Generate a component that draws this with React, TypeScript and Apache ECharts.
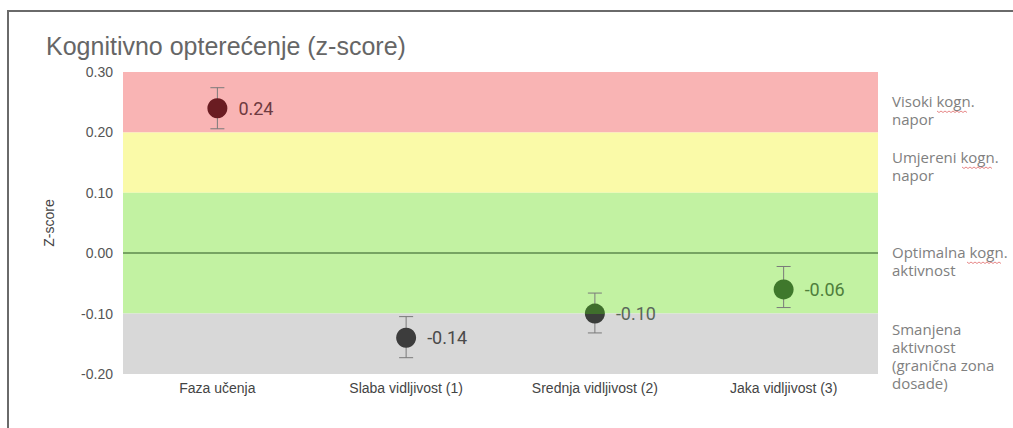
import React, { useEffect, useRef } from "react";
import * as echarts from "echarts";

const categories = ["Faza učenja", "Slaba vidljivost (1)", "Srednja vidljivost (2)", "Jaka vidljivost (3)"];
const values = [0.24, -0.14, -0.1, -0.06];
const errLow = [0.206, -0.173, -0.132, -0.09];
const errHigh = [0.274, -0.105, -0.066, -0.022];
const yTicks = [-0.2, -0.1, 0, 0.1, 0.2, 0.3];
const bands = [
  { from: 0.2, to: 0.3, color: "#f9b4b4" },
  { from: 0.1, to: 0.2, color: "#fafaa8" },
  { from: -0.1, to: 0.1, color: "#c2f2a2" },
  { from: -0.2, to: -0.1, color: "#d8d8d8" },
];
const zoneLabels = [
  { text: "Visoki kogn.\nnapor", y: 92 },
  { text: "Umjereni kogn.\nnapor", y: 148 },
  { text: "Optimalna kogn.\naktivnost", y: 243 },
  { text: "Smanjena\naktivnost\n(granična zona\ndosade)", y: 320 },
];

const pointColors: any[] = [
  "#6a1c22",
  "#3c3c3c",
  new echarts.graphic.LinearGradient(0, 0, 0, 1, [
    { offset: 0, color: "#3f6e2c" },
    { offset: 0.5, color: "#3f6e2c" },
    { offset: 0.5, color: "#3a3d3a" },
    { offset: 1, color: "#3a3d3a" },
  ]),
  "#3f782c",
];
const labelColors = ["#6e3a40", "#4a4a4a", "#5a665a", "#4f7e3c"];

function squiggle(x0: number, x1: number, y: number) {
  const pts: number[][] = [];
  let up = true;
  for (let x = x0; x <= x1; x += 2) {
    pts.push([x, up ? y : y + 1.5]);
    up = !up;
  }
  return {
    type: "polyline",
    shape: { points: pts },
    style: { stroke: "#e06a6a", lineWidth: 0.8, fill: null },
    silent: true,
  };
}

const sans = "Liberation Sans, Arial, sans-serif";

export default function App() {
  const ref = useRef<HTMLDivElement>(null);
  useEffect(() => {
    if (!ref.current) return;
    const chart = echarts.init(ref.current, null, { renderer: "svg" });
    const option: any = {
      animation: false,
      backgroundColor: "#ffffff",
      title: {
        text: "Kognitivno opterećenje (z-score)",
        left: 41,
        top: 28,
        textStyle: {
          fontFamily: sans,
          fontSize: 25,
          fontWeight: "normal",
          color: "#666666",
        },
      },
      grid: { left: 123, right: 135, top: 72, bottom: 54 },
      xAxis: {
        type: "category",
        data: categories,
        boundaryGap: true,
        axisLine: { show: false },
        axisTick: { show: false },
        axisLabel: {
          margin: 7,
          fontSize: 14,
          color: "#444444",
          fontFamily: sans,
        },
      },
      yAxis: {
        type: "value",
        min: -0.2,
        max: 0.3,
        interval: 0.1,
        name: "Z-score",
        nameLocation: "middle",
        nameGap: 67,
        nameRotate: 90,
        nameTextStyle: {
          fontSize: 14,
          color: "#444444",
          fontFamily: sans,
        },
        axisLine: { show: false },
        axisTick: { show: false },
        splitLine: { show: false },
        axisLabel: {
          margin: 10,
          fontSize: 14,
          color: "#555555",
          fontFamily: sans,
          formatter: (v: number) => (yTicks.some((t) => Math.abs(t - v) < 1e-9) ? v.toFixed(2) : ""),
        },
      },
      series: [
        {
          type: "custom",
          z: 2,
          renderItem: (params: any, api: any) => {
            const x = api.coord([api.value(0), 0])[0];
            const yl = api.coord([0, api.value(1)])[1];
            const yh = api.coord([0, api.value(2)])[1];
            const cw = 7;
            const st = { stroke: "#7a7a7a", lineWidth: 1 };
            return {
              type: "group",
              children: [
                { type: "line", shape: { x1: x, y1: yl, x2: x, y2: yh }, style: st },
                { type: "line", shape: { x1: x - cw, y1: yl, x2: x + cw, y2: yl }, style: st },
                { type: "line", shape: { x1: x - cw, y1: yh, x2: x + cw, y2: yh }, style: st },
              ],
            };
          },
          data: categories.map((c, i) => [i, errLow[i], errHigh[i]]),
          markArea: {
            silent: true,
            z: 1,
            data: bands.map((b) => [
              { yAxis: b.from, itemStyle: { color: b.color } },
              { yAxis: b.to },
            ]),
          },
          markLine: {
            silent: true,
            symbol: "none",
            label: { show: false },
            lineStyle: { color: "#5c8a4c", width: 1.5, type: "solid" },
            data: [{ yAxis: 0 }],
          },
        },
        {
          type: "scatter",
          z: 3,
          symbolSize: 20,
          itemStyle: { opacity: 1 },
          data: values.map((v, i) => ({
            value: [i, v],
            itemStyle: { color: pointColors[i], opacity: 1 },
            label: { color: labelColors[i] },
          })),
          label: {
            show: true,
            position: "right",
            distance: 11,
            fontSize: 18,
            fontFamily: "Roboto, Liberation Sans, sans-serif",
            formatter: (p: any) => p.value[1].toFixed(2),
          },
        },
      ],
      graphic: [
        {
          type: "line",
          shape: { x1: 8, y1: 11, x2: 1013, y2: 11 },
          style: { stroke: "#6a6a6a", lineWidth: 2 },
          silent: true,
        },
        {
          type: "line",
          shape: { x1: 8, y1: 10, x2: 8, y2: 428 },
          style: { stroke: "#6a6a6a", lineWidth: 2 },
          silent: true,
        },
        ...zoneLabels.map((z) => ({
          type: "text",
          x: 892,
          y: z.y,
          silent: true,
          style: {
            text: z.text,
            fill: "#808080",
            fontSize: 15,
            lineHeight: 18,
            fontFamily: "Open Sans, sans-serif",
            verticalAlign: "top",
            align: "left",
          },
        })),
        squiggle(937, 967, 111),
        squiggle(962, 992, 167),
        squiggle(967, 1001, 262),
      ],
    };
    chart.setOption(option);
    return () => chart.dispose();
  }, []);
  return (
    <div
      ref={ref}
      style={{ position: "fixed", left: 0, top: 0, width: 1013, height: 428 }}
    />
  );
}
